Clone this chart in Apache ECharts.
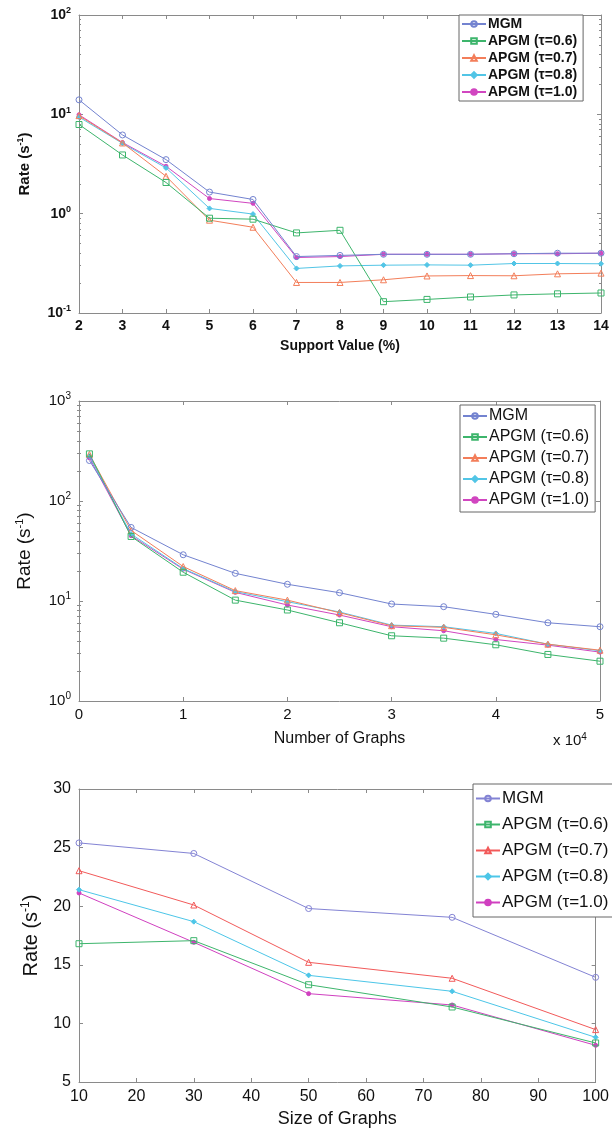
<!DOCTYPE html>
<html><head><meta charset="utf-8">
<script src="https://cdn.jsdelivr.net/npm/echarts@6/dist/echarts.min.js"></script>
<style>html,body{margin:0;padding:0;background:#fff}#c{width:612px;height:1133px}</style>
</head><body><div id="c"></div>
<script>
const seriesNames = ['MGM', 'APGM (τ=0.6)', 'APGM (τ=0.7)', 'APGM (τ=0.8)', 'APGM (τ=1.0)'];

// Chart 1: rate vs support value (%)
const supportValues = [2, 3, 4, 5, 6, 7, 8, 9, 10, 11, 12, 13, 14];
const c1MGM = [14.0, 6.2, 3.5, 1.65, 1.39, 0.37, 0.38, 0.39, 0.39, 0.39, 0.395, 0.40, 0.40];
const c1T06 = [7.9, 3.9, 2.06, 0.90, 0.88, 0.64, 0.68, 0.130, 0.137, 0.145, 0.152, 0.156, 0.159];
const c1T07 = [9.7, 5.15, 2.38, 0.86, 0.73, 0.203, 0.203, 0.216, 0.236, 0.238, 0.237, 0.248, 0.252];
const c1T08 = [9.4, 5.1, 2.89, 1.13, 0.99, 0.281, 0.298, 0.303, 0.305, 0.303, 0.315, 0.315, 0.313];
const c1T10 = [9.9, 5.2, 3.0, 1.42, 1.27, 0.362, 0.37, 0.39, 0.39, 0.39, 0.395, 0.395, 0.40];

// Chart 2: rate vs number of graphs
const graphCounts = [1000, 5000, 10000, 15000, 20000, 25000, 30000, 35000, 40000, 45000, 50000];
const c2MGM = [254, 54.4, 29.0, 18.9, 14.7, 12.1, 9.33, 8.77, 7.35, 6.06, 5.53];
const c2T06 = [296, 44.2, 19.4, 10.2, 8.13, 6.06, 4.49, 4.25, 3.65, 2.92, 2.50];
const c2T07 = [292, 50.8, 22.1, 12.7, 10.2, 7.64, 5.66, 5.45, 4.59, 3.70, 3.22];
const c2T08 = [281, 46.7, 21.1, 12.4, 9.84, 7.76, 5.74, 5.53, 4.74, 3.70, 3.18];
const c2T10 = [270, 45.0, 20.8, 12.2, 9.12, 7.24, 5.53, 5.04, 4.12, 3.62, 3.08];

// Chart 3: rate vs size of graphs
const graphSizes = [10, 30, 50, 75, 100];
const c3MGM = [25.4, 24.5, 19.8, 19.05, 13.93];
const c3T06 = [16.8, 17.06, 13.3, 11.4, 8.33];
const c3T07 = [23.03, 20.1, 15.21, 13.85, 9.47];
const c3T08 = [21.41, 18.68, 14.1, 12.74, 8.81];
const c3T10 = [21.13, 16.92, 12.54, 11.57, 8.13];

const FONT = "'Liberation Sans', Arial, sans-serif";
const AXIS = '#8a8a8a';
const colors12 = ['#7383d0', '#3db56c', '#f37e5a', '#52c5e6', '#d146c0'];
const colors3 = ['#8383d4', '#3db56c', '#f25a5a', '#4cc6e8', '#d040c0'];
const symbols = [['circle', 6, false], ['rect', 6, false], ['triangle', 6, false], ['diamond', 5, true], ['circle', 4, true]];

const grids = [
  {left: 79, top: 15, width: 522, height: 298},
  {left: 79, top: 401, width: 521, height: 300},
  {left: 79, top: 789, width: 521, height: 293}
];

function minorVals(lo, hi) {
  const out = [];
  for (let d = lo; d < hi; d++) for (let m = 2; m <= 9; m++) out.push(m * Math.pow(10, d));
  return out;
}
function logLabel(v) {
  const e = Math.round(Math.log10(v));
  return '{b|10}{s|' + e + '}';
}

const xAxes = [], yAxes = [], series = [], legends = [];

function addX(g, cfg, lblStyle, nameCfg) {
  const base = {gridIndex: g, type: 'value', min: cfg.min, max: cfg.max, interval: cfg.interval,
    splitLine: {show: false}, axisLine: {show: true, onZero: false, lineStyle: {color: AXIS, width: 1}},
    axisTick: {show: true, inside: true, length: 4, lineStyle: {color: AXIS}}};
  xAxes.push(Object.assign({}, base, {position: 'bottom',
    axisLabel: Object.assign({show: true, color: '#111', fontFamily: FONT, formatter: cfg.formatter}, lblStyle)}, nameCfg));
  xAxes.push(Object.assign({}, base, {position: 'top', axisLabel: {show: false}}));
}
function addYLinear(g, cfg, lblStyle, nameCfg) {
  const base = {gridIndex: g, type: 'value', min: cfg.min, max: cfg.max, interval: cfg.interval,
    splitLine: {show: false}, axisLine: {show: true, onZero: false, lineStyle: {color: AXIS, width: 1}},
    axisTick: {show: true, inside: true, length: 4, lineStyle: {color: AXIS}}};
  yAxes.push(Object.assign({}, base, {position: 'left',
    axisLabel: Object.assign({show: true, color: '#111', fontFamily: FONT}, lblStyle)}, nameCfg));
  yAxes.push(Object.assign({}, base, {position: 'right', axisLabel: {show: false}}));
  return yAxes.length - 2;
}
function addYLog(g, lo, hi, lblStyle, nameCfg) {
  const base = {gridIndex: g, type: 'log', logBase: 10, min: Math.pow(10, lo), max: Math.pow(10, hi),
    splitLine: {show: false}, axisLine: {show: true, onZero: false, lineStyle: {color: AXIS, width: 1}},
    axisTick: {show: true, inside: true, length: 4, lineStyle: {color: AXIS}}};
  const idx = yAxes.length;
  yAxes.push(Object.assign({}, base, {position: 'left',
    axisLabel: Object.assign({show: true, color: '#111', fontFamily: FONT, formatter: logLabel}, lblStyle)}, nameCfg));
  yAxes.push(Object.assign({}, base, {position: 'right', axisLabel: {show: false}}));
  const mv = minorVals(lo, hi);
  ['left', 'right'].forEach(p => yAxes.push(Object.assign({}, base, {position: p, axisLine: {show: false},
    axisLabel: {show: false}, axisTick: {show: true, inside: true, length: 2, customValues: mv, lineStyle: {color: AXIS}}})));
  return idx;
}

function addSeries(g, xi, yi, xs, ysList, colors, tag) {
  ysList.forEach((ys, k) => {
    const [sym, size, filled] = symbols[k];
    series.push({type: 'line', name: seriesNames[k] + tag, xAxisIndex: xi, yAxisIndex: yi,
      data: xs.map((x, i) => [x, ys[i]]), symbol: sym, symbolSize: size, showSymbol: true,
      lineStyle: {color: colors[k], width: 1}, itemStyle: {color: filled ? colors[k] : 'rgba(255,255,255,0)', borderColor: colors[k], borderWidth: 1},
      emphasis: {disabled: true}, animation: false, z: 10 - k});
  });
}

function rateName(fs, weight, gap) {
  return {name: '{a|Rate (s}{s|-1}{a|)}', nameLocation: 'middle', nameRotate: 90, nameGap: gap,
    nameTextStyle: {rich: {a: {fontSize: fs, fontWeight: weight, fontFamily: FONT, color: '#111'},
      s: {fontSize: Math.round(fs * 0.6), fontWeight: weight, fontFamily: FONT, color: '#111', padding: [0, 0, Math.round(fs * 0.55), 0]}}}};
}
function xName(text, fs, weight, gap) {
  return {name: text, nameLocation: 'middle', nameGap: gap,
    nameTextStyle: {fontSize: fs, fontWeight: weight, fontFamily: FONT, color: '#111'}};
}
function logRich(fs, weight) {
  return {fontSize: fs, fontWeight: weight, margin: 8, rich: {
    b: {fontSize: fs, fontWeight: weight, fontFamily: FONT, color: '#111'},
    s: {fontSize: Math.round(fs * 0.65), fontWeight: weight, fontFamily: FONT, color: '#111', padding: [0, 0, Math.round(fs * 0.6), 0]}}};
}
function addLegend(tag, colors, left, top, fs, weight, gap, pad) {
  legends.push({orient: 'vertical', left: left, top: top, data: seriesNames.map(n => n + tag),
    formatter: n => n.split('#')[0], backgroundColor: '#fff', borderColor: '#666', borderWidth: 1,
    padding: pad, itemGap: gap, itemWidth: 24, itemHeight: 7, selectedMode: false,
    textStyle: {fontSize: fs, fontWeight: weight, fontFamily: FONT, color: '#111', padding: [0, 0, 0, -3]}});
}

// ---- chart 1
addX(0, {min: 2, max: 14, interval: 1}, {fontSize: 14, fontWeight: 'bold', margin: 6},
  xName('Support Value (%)', 14, 'bold', 26));
let y1 = addYLog(0, -1, 2, logRich(14, 'bold'), rateName(15, 'bold', 46));
addSeries(0, 0, y1, supportValues, [c1MGM, c1T06, c1T07, c1T08, c1T10], colors12, '#1');
addLegend('#1', colors12, 459, 15, 14, 'bold', 3, [2, 6, 2, 2]);

// ---- chart 2
addX(1, {min: 0, max: 50000, interval: 10000, formatter: v => String(v / 10000)}, {fontSize: 15, margin: 6},
  xName('Number of Graphs', 16, 'normal', 30));
let y2 = addYLog(1, 0, 3, logRich(15, 'normal'), rateName(19, 'normal', 44));
addSeries(1, 2, y2, graphCounts, [c2MGM, c2T06, c2T07, c2T08, c2T10], colors12, '#2');
addLegend('#2', colors12, 460, 405, 16, 'normal', 5, [3, 6, 4, 2]);

// ---- chart 3
addX(2, {min: 10, max: 100, interval: 10}, {fontSize: 16, margin: 7},
  xName('Size of Graphs', 18, 'normal', 28));
let y3 = addYLinear(2, {min: 5, max: 30, interval: 5}, {fontSize: 16, margin: 8}, rateName(20, 'normal', 36));
addSeries(2, 4, y3, graphSizes, [c3MGM, c3T06, c3T07, c3T08, c3T10], colors3, '#3');
addLegend('#3', colors3, 473, 784, 17, 'normal', 9, [6, 6, 6, 2]);

const option = {
  backgroundColor: '#fff',
  animation: false,
  grid: grids.map(g => Object.assign({containLabel: false, show: false}, g)),
  xAxis: xAxes,
  yAxis: yAxes,
  legend: legends,
  series: series,
  graphic: [{type: 'text', left: 553, top: 732, style: {text: '{a|x 10}{s|4}', rich: {
    a: {fontSize: 15, fontFamily: FONT, fill: '#111'},
    s: {fontSize: 10, fontFamily: FONT, fill: '#111', padding: [0, 0, 8, 0]}}}}]
};
const chart = echarts.init(document.getElementById('c'), null, {renderer: 'canvas'});
chart.setOption(option);
</script></body></html>
